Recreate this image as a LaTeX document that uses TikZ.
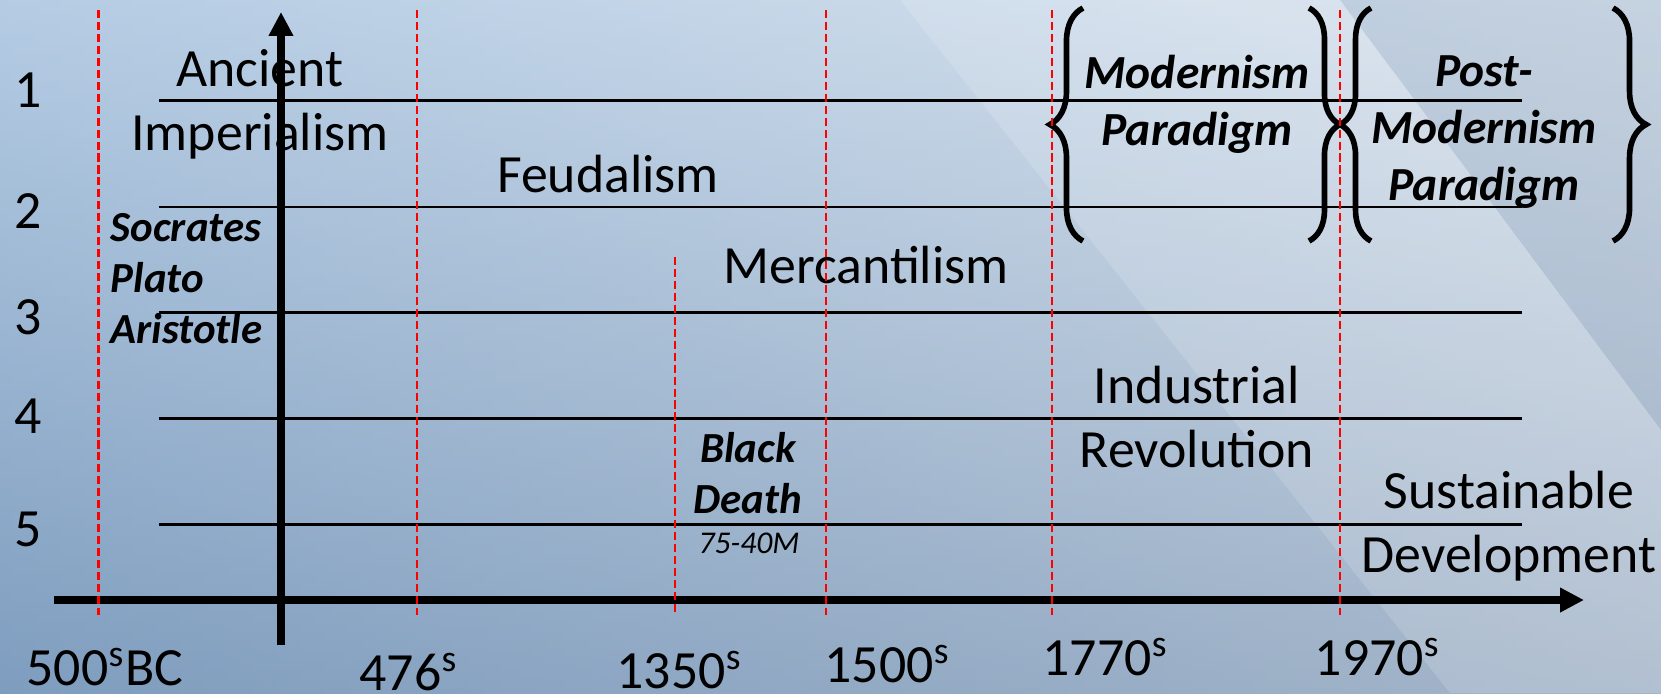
\documentclass[tikz,border=0pt]{standalone}
\usepackage{fontspec}
\setmainfont{Carlito}
\usepackage{tikz}
\usetikzlibrary{arrows.meta,positioning,calc,decorations.pathreplacing}
\definecolor{bgtop}{HTML}{DDE8F3}
\definecolor{bgmid}{HTML}{B8CADD}
\definecolor{bgbot}{HTML}{8AA0BA}
\definecolor{bgleft}{HTML}{6A98C8}
\definecolor{bgright}{HTML}{D6DDE5}

\tikzset{
  era/.style={font=\fontsize{15.3}{18.2}\selectfont, align=center, inner sep=0pt, anchor=base},
  thinker/.style={font=\fontsize{12.2}{14.4}\selectfont\bfseries\itshape, align=left, inner sep=0pt, anchor=base west},
  paradigm/.style={font=\fontsize{13.5}{16.1}\selectfont\bfseries\itshape, align=center, inner sep=0pt, anchor=base},
  yearlbl/.style={font=\fontsize{15.3}{18.2}\selectfont, inner sep=0pt, text depth=0pt, anchor=base west},
  rowlbl/.style={font=\fontsize{15.3}{18.2}\selectfont, inner sep=0pt, anchor=base},
  band/.style={line width=0.6pt},
  epoch/.style={red, line width=0.57pt, dash pattern=on 2.3pt off 1.1pt},
  axis/.style={line width=2.1pt, -{Triangle[length=6.8pt,width=6.6pt]}},
  bracket/.style={decorate, decoration={brace, amplitude=#1}, line width=1.6pt}
}

\begin{document}
\begin{tikzpicture}[x=0.01cm, y=-0.01cm]
  \useasboundingbox (0,0) rectangle (1661,693);
  \shade[top color=bgtop, middle color=bgmid, bottom color=bgbot] (0,0) rectangle (1661,693);
  \shade[left color=bgleft, right color=bgright, opacity=0.35] (0,0) rectangle (1661,693);
  \fill[white, opacity=0.15] (900,0) -- (1340,0) -- (1661,430) -- (1661,693) -- (1450,693) -- cycle;
  \fill[bgbot, opacity=0.25] (1340,0) -- (1661,0) -- (1661,430) -- cycle;

  \foreach \yy/\k/\bl in {100.5/1/107, 207/2/228, 312.5/3/334, 418.5/4/433, 524.5/5/546} {
    \coordinate (left\k) at (159,\yy);
    \coordinate (right\k) at (1522,\yy);
    \draw[band] (left\k) -- (right\k);
    \node[rowlbl] (row\k) at (28,\bl) {\k};
  }

  \node[era] (ancient) at (260,150) {Ancient\\Imperialism};
  \node[era] (feudal) at (608,192) {Feudalism};
  \node[era] (mercant) at (866,283) {Mercantilism};
  \node[era] (industry) at (1197,467) {Industrial\\Revolution};
  \node[era] (sustain) at (1509,572) {Sustainable\\Development};
  \node[thinker] (greeks) at (110,343) {Socrates\\Plato\\Aristotle};
  \node[thinker, anchor=base, align=center] (plague) at (748,513) {Black\\Death};
  \node[font=\fontsize{9}{11}\selectfont\itshape, inner sep=0pt, anchor=base] (toll) at (749,553) {75-40M};
  \node[paradigm] (modern) at (1197,145) {Modernism\\Paradigm};
  \node[paradigm] (postmodern) at (1484,200) {Post-\\Modernism\\Paradigm};

  \foreach \xx/\bl/\txt [count=\i] in {26/685/500\textsuperscript{s}BC, 359/690/476\textsuperscript{s},
      616/688/1350\textsuperscript{s}, 824/682/1500\textsuperscript{s},
      1042/675/1770\textsuperscript{s}, 1314/675/1970\textsuperscript{s}}
    \node[yearlbl] (year\i) at (\xx,\bl) {\txt};

  \coordinate (xfrom) at (54,600);
  \coordinate (xto) at (1584,600);
  \coordinate (yfrom) at (281,645);
  \coordinate (yto) at (281,12);
  \draw[axis] (xfrom) -- (xto);
  \draw[axis] (yfrom) -- (yto);

  \coordinate (modtop) at (1083,8);
  \coordinate (modbot) at (1083,241);
  \coordinate (modtopr) at (1309,8);
  \coordinate (modbotr) at (1309,241);
  \coordinate (posttop) at (1371,8);
  \coordinate (postbot) at (1371,241);
  \coordinate (posttopr) at (1613,8);
  \coordinate (postbotr) at (1613,241);
  \draw[bracket=9.4pt] (modbot) -- (modtop);
  \draw[bracket=8.8pt] (modtopr) -- (modbotr);
  \draw[bracket=8.8pt] (postbot) -- (posttop);
  \draw[bracket=9.4pt] (posttopr) -- (postbotr);

  \foreach \xx/\tp [count=\i] in {98.5/10, 417/10, 675/257, 826/10, 1052/10, 1340/10} {
    \coordinate (etop\i) at (\xx,\tp);
    \coordinate (ebot\i) at (\xx,615);
    \draw[epoch] (etop\i) -- (ebot\i);
  }
\end{tikzpicture}
\end{document}
